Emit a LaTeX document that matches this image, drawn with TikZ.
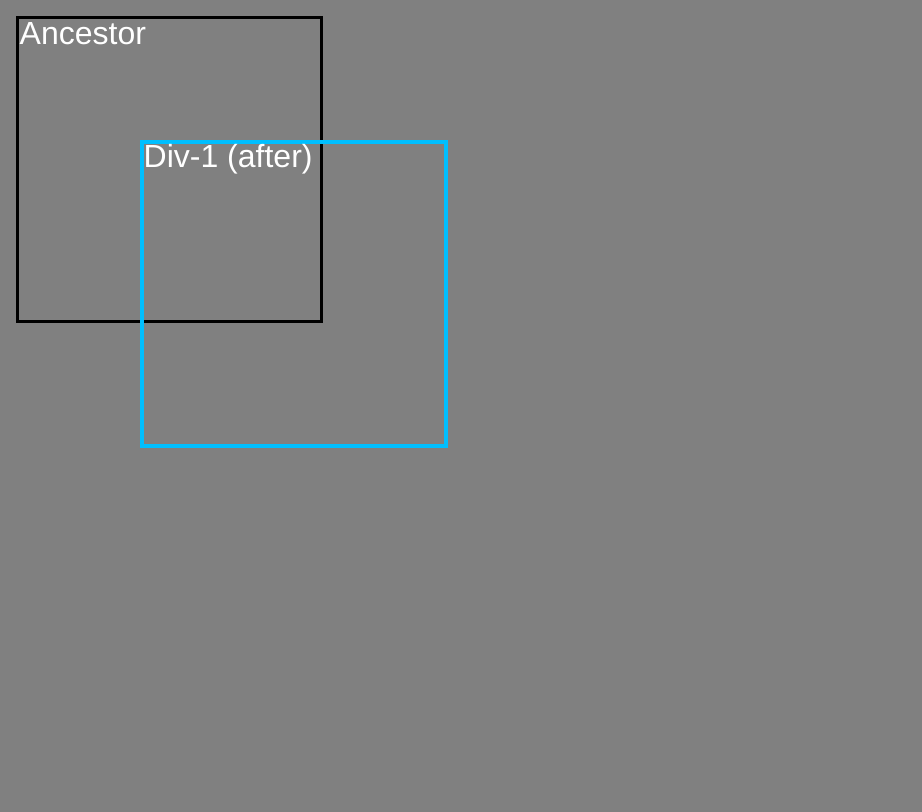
\documentclass[tikz,border=0pt]{standalone}
\usepackage{fontspec}
\setmainfont{Liberation Sans}
\definecolor{bg}{HTML}{808080}
\definecolor{cyanbox}{RGB}{0,191,255}
\tikzset{
  box/.style={line width=3.5pt},
  lbl/.style={text=white, inner sep=0pt, anchor=base west, font=\fontsize{32}{36}\selectfont}
}
\begin{document}
\begin{tikzpicture}[x=1pt,y=-1pt]
\fill[bg] (0,0) rectangle (922,812);
\useasboundingbox (0,0) rectangle (922,812);
\draw[box, black] (17.5,17.5) rectangle (321.5,321.5);
\node[lbl] (anc) at (19.5,44) {Ancestor};
\draw[box, cyanbox] (142,142) rectangle (446,446);
\node[lbl] (div) at (143.5,167) {Div-1 (after)};
\end{tikzpicture}
\end{document}
